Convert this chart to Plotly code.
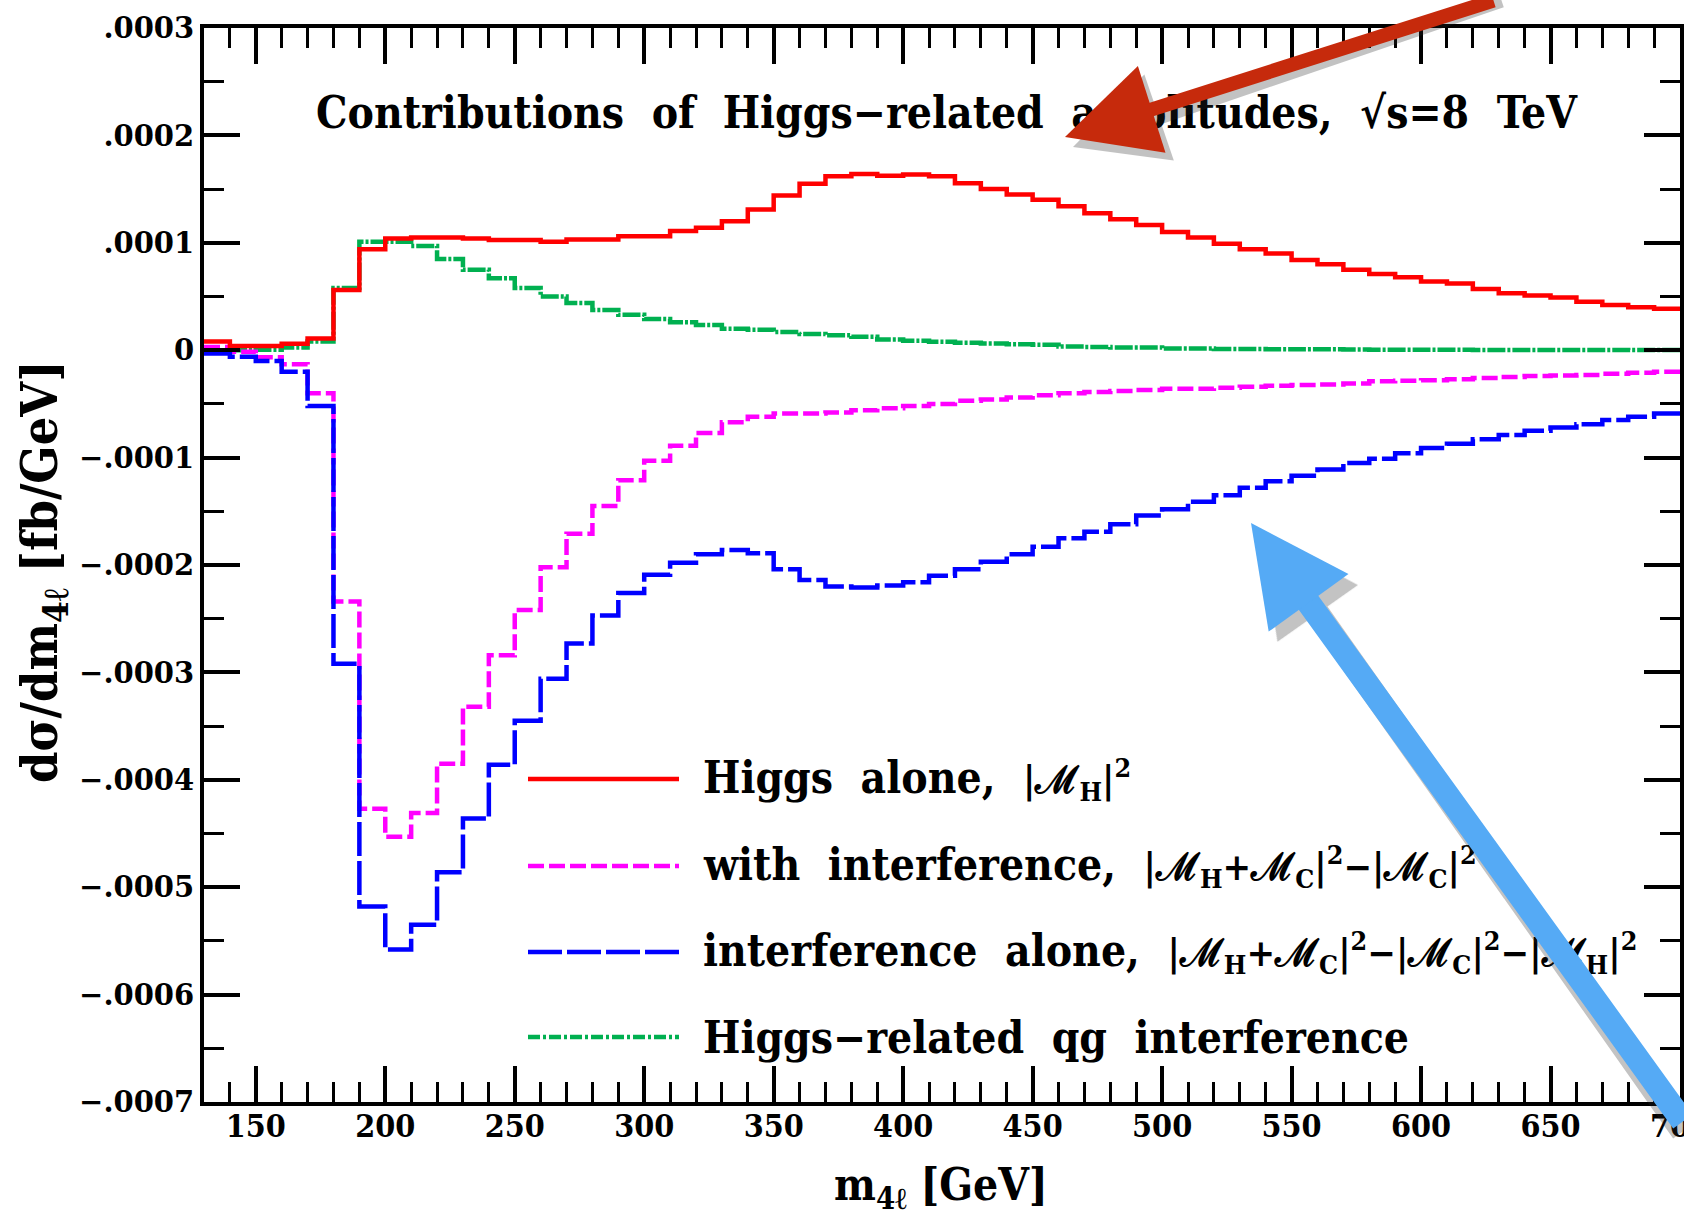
import plotly.graph_objects as go

# ---------------- data (bin low edges, GeV) ----------------
m4l_edges = list(range(130, 710, 10))  # 130 ... 700 (58 edges -> 57 bins)

higgs_alone = [0.08e-4, 0.04e-4, 0.04e-4, 0.06e-4, 0.11e-4, 0.56e-4, 0.94e-4, 1.04e-4, 1.05e-4, 1.05e-4,
               1.04e-4, 1.025e-4, 1.025e-4, 1.01e-4, 1.03e-4, 1.03e-4, 1.06e-4, 1.06e-4, 1.11e-4, 1.14e-4,
               1.20e-4, 1.31e-4, 1.44e-4, 1.55e-4, 1.62e-4, 1.64e-4, 1.625e-4, 1.635e-4, 1.62e-4, 1.555e-4,
               1.50e-4, 1.45e-4, 1.40e-4, 1.34e-4, 1.275e-4, 1.22e-4, 1.165e-4, 1.10e-4, 1.05e-4, 0.99e-4,
               0.94e-4, 0.90e-4, 0.84e-4, 0.80e-4, 0.75e-4, 0.71e-4, 0.68e-4, 0.64e-4, 0.62e-4, 0.57e-4,
               0.53e-4, 0.51e-4, 0.49e-4, 0.45e-4, 0.42e-4, 0.40e-4, 0.385e-4]

with_interference = [0.03e-4, -0.015e-4, -0.065e-4, -0.13e-4, -0.40e-4, -2.34e-4, -4.27e-4, -4.53e-4, -4.31e-4, -3.85e-4,
                     -3.32e-4, -2.84e-4, -2.42e-4, -2.02e-4, -1.71e-4, -1.45e-4, -1.21e-4, -1.03e-4, -0.89e-4, -0.77e-4,
                     -0.67e-4, -0.62e-4, -0.59e-4, -0.59e-4, -0.58e-4, -0.56e-4, -0.54e-4, -0.52e-4, -0.50e-4, -0.47e-4,
                     -0.46e-4, -0.44e-4, -0.42e-4, -0.40e-4, -0.39e-4, -0.38e-4, -0.37e-4, -0.36e-4, -0.36e-4, -0.35e-4,
                     -0.34e-4, -0.33e-4, -0.325e-4, -0.32e-4, -0.31e-4, -0.29e-4, -0.285e-4, -0.28e-4, -0.27e-4, -0.26e-4,
                     -0.25e-4, -0.24e-4, -0.235e-4, -0.23e-4, -0.22e-4, -0.21e-4, -0.20e-4]

interference_alone = [-0.03e-4, -0.06e-4, -0.10e-4, -0.20e-4, -0.52e-4, -2.92e-4, -5.18e-4, -5.58e-4, -5.35e-4, -4.86e-4,
                      -4.36e-4, -3.86e-4, -3.45e-4, -3.06e-4, -2.73e-4, -2.47e-4, -2.26e-4, -2.09e-4, -1.98e-4, -1.90e-4,
                      -1.86e-4, -1.89e-4, -2.04e-4, -2.14e-4, -2.20e-4, -2.21e-4, -2.19e-4, -2.16e-4, -2.10e-4, -2.04e-4,
                      -1.97e-4, -1.90e-4, -1.83e-4, -1.75e-4, -1.69e-4, -1.62e-4, -1.54e-4, -1.48e-4, -1.41e-4, -1.35e-4,
                      -1.28e-4, -1.22e-4, -1.17e-4, -1.11e-4, -1.05e-4, -1.01e-4, -0.96e-4, -0.91e-4, -0.87e-4, -0.83e-4,
                      -0.79e-4, -0.75e-4, -0.72e-4, -0.69e-4, -0.65e-4, -0.62e-4, -0.59e-4]

qg_interference = [0.0, 0.0, 0.005e-4, 0.025e-4, 0.08e-4, 0.58e-4, 1.01e-4, 1.01e-4, 0.97e-4, 0.85e-4,
                   0.75e-4, 0.67e-4, 0.58e-4, 0.50e-4, 0.44e-4, 0.375e-4, 0.33e-4, 0.29e-4, 0.26e-4, 0.234e-4,
                   0.20e-4, 0.19e-4, 0.17e-4, 0.15e-4, 0.14e-4, 0.125e-4, 0.10e-4, 0.087e-4, 0.078e-4, 0.07e-4,
                   0.062e-4, 0.056e-4, 0.05e-4, 0.034e-4, 0.03e-4, 0.025e-4, 0.025e-4, 0.016e-4, 0.016e-4, 0.012e-4,
                   0.012e-4, 0.01e-4, 0.008e-4, 0.008e-4, 0.006e-4, 0.005e-4, 0.005e-4, 0.004e-4, 0.004e-4, 0.003e-4,
                   0.003e-4, 0.003e-4, 0.002e-4, 0.002e-4, 0.002e-4, 0.001e-4, 0.001e-4]

x_tick_vals = [150, 200, 250, 300, 350, 400, 450, 500, 550, 600, 650, 700]
y_tick_vals = [3e-4, 2e-4, 1e-4, 0, -1e-4, -2e-4, -3e-4, -4e-4, -5e-4, -6e-4, -7e-4]
y_tick_text = [".0003", ".0002", ".0001", "0", "\u2212.0001", "\u2212.0002", "\u2212.0003",
               "\u2212.0004", "\u2212.0005", "\u2212.0006", "\u2212.0007"]

title_text = "Contributions\u00a0 of\u00a0 Higgs\u2212related\u00a0 amplitudes,\u00a0 \u221As=8\u00a0 TeV"

M = "\u2133"
def math(s):
    return '<span style="font-size:38px">' + s + '</span>'

legend_labels = [
    "Higgs\u00a0 alone,\u00a0 " + math("|" + M + "<sub>H</sub>|<sup>2</sup>"),
    "with\u00a0 interference,\u00a0 " + math("|" + M + "<sub>H</sub>+" + M + "<sub>C</sub>|<sup>2</sup>\u2212|" + M + "<sub>C</sub>|<sup>2</sup>"),
    "interference\u00a0 alone,\u00a0 " + math("|" + M + "<sub>H</sub>+" + M + "<sub>C</sub>|<sup>2</sup>\u2212|" + M + "<sub>C</sub>|<sup>2</sup>\u2212|" + M + "<sub>H</sub>|<sup>2</sup>"),
    "Higgs\u2212related\u00a0 qg\u00a0 interference",
]
# ------------------------------------------------------------

SERIF = "DejaVu Serif Condensed, DejaVu Serif, serif"

def steps(vals):
    return vals + [vals[-1]]

GREEN_DASH = "18px,2px,3px,2px"
series = [
    (qg_interference, "#00B050", GREEN_DASH),
    (with_interference, "#FF00FF", "16px,5px"),
    (interference_alone, "#0000FF", "34px,5px"),
    (higgs_alone, "#FF0000", "solid"),
]

fig = go.Figure()
for vals, col, dash in series:
    fig.add_trace(go.Scatter(x=m4l_edges, y=steps(vals), mode="lines",
                             line=dict(color=col, width=4.5, dash=dash, shape="hv"),
                             showlegend=False, hoverinfo="skip"))

L, R, T, B = 204, 4, 28, 112
W, H = 1684, 1214
PW, PH = W - L - R, H - T - B

def px(xp):
    return (xp - L) / PW

def py(yp):
    return (H - B - yp) / PH

annotations = []
annotations.append(dict(text=title_text, xref="paper", yref="paper", x=px(947), y=py(112),
                        showarrow=False, font=dict(family=SERIF, size=44, color="black", weight="bold"),
                        xanchor="center", yanchor="middle"))

shapes = []
leg_rows = [779, 866, 952, 1037]
leg_styles = [("#FF0000", "solid"), ("#FF00FF", "16px,5px"), ("#0000FF", "34px,5px"), ("#00B050", "12px,3px,3px,3px")]
for yrow, (col, dash), lab in zip(leg_rows, leg_styles, legend_labels):
    shapes.append(dict(type="line", xref="paper", yref="paper", x0=px(528), x1=px(679), y0=py(yrow), y1=py(yrow),
                       line=dict(color=col, width=4.5, dash=dash)))
    annotations.append(dict(text=lab, xref="paper", yref="paper", x=px(701), y=py(yrow), showarrow=False,
                            xanchor="left", yanchor="middle",
                            font=dict(family=SERIF, size=44, color="black", weight="bold")))

# axis titles
annotations.append(dict(text="d\u03c3/dm<sub>4\u2113</sub> [fb/GeV]", xref="paper", yref="paper",
                        x=px(43), y=py(572), textangle=-90, showarrow=False,
                        xanchor="center", yanchor="middle",
                        font=dict(family=SERIF, size=50, color="black", weight="bold")))
annotations.append(dict(text="m<sub>4\u2113</sub> [GeV]", xref="paper", yref="paper",
                        x=px(941), y=py(1187), showarrow=False, xanchor="center", yanchor="middle",
                        font=dict(family=SERIF, size=44, color="black", weight="bold")))

# overlay arrows (shadow first)
RED_TAIL = (430, -195)
BLUE_TAIL = (530, 600)
for (tx, ty, (axo, ayo), col, aw, asz) in [
    (1065 + 8, 137 + 10, RED_TAIL, "rgba(40,40,40,0.28)", 14, 1.3),
    (1251 + 10, 523 + 10, BLUE_TAIL, "rgba(40,40,40,0.28)", 24, 0.82),
    (1065, 137, RED_TAIL, "#C62A0C", 14, 1.3),
    (1251, 523, BLUE_TAIL, "#55AAF5", 24, 0.82),
]:
    annotations.append(dict(text="", xref="paper", yref="paper", x=px(tx), y=py(ty),
                            ax=axo, ay=ayo, showarrow=True, arrowhead=2, arrowsize=asz,
                            arrowwidth=aw, arrowcolor=col))

axis_common = dict(showline=True, linecolor="black", linewidth=4, mirror="ticks",
                   ticks="inside", tickcolor="black", tickwidth=3.5, ticklen=36,
                   showgrid=False, zeroline=False, automargin=False)

fig.update_layout(
    width=W, height=H,
    margin=dict(l=L, r=R, t=T, b=B, autoexpand=False),
    paper_bgcolor="white", plot_bgcolor="white",
    font=dict(family=SERIF, color="black", weight="bold"),
    xaxis=dict(range=[130, 700], tickmode="array", tickvals=x_tick_vals,
               tickfont=dict(family=SERIF, size=32, weight="bold"),
               ticklabeloverflow="allow", ticklabelstandoff=-7,
               minor=dict(dtick=10, tick0=0, ticks="inside", ticklen=20, tickwidth=3, tickcolor="black"),
               **axis_common),
    yaxis=dict(range=[-7e-4, 3e-4], tickmode="array", tickvals=y_tick_vals, ticktext=y_tick_text,
               tickfont=dict(family="DejaVu Serif, serif", size=29, weight="bold"),
               ticklabeloverflow="allow",
               minor=dict(dtick=5e-5, tick0=0, ticks="inside", ticklen=20, tickwidth=3, tickcolor="black"),
               **axis_common),
    annotations=annotations,
    shapes=shapes,
    showlegend=False,
)

fig.write_html("out.html")
